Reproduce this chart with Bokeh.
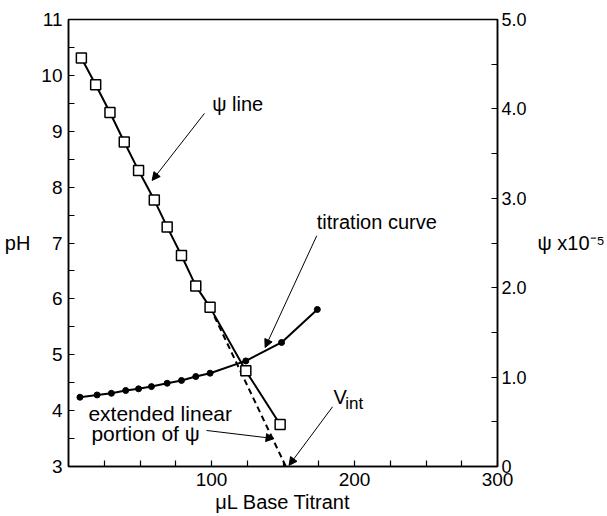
from bokeh.plotting import figure
from bokeh.models import (Range1d, LinearAxis, FixedTicker, Label, Arrow, NormalHead)
from bokeh.embed import file_html
from bokeh.resources import INLINE

# ---- data ----
titr_x = [8, 20, 30, 40, 49, 58, 69, 79, 89, 99, 124, 149, 174]
titr_ph = [4.24, 4.28, 4.31, 4.36, 4.39, 4.43, 4.49, 4.54, 4.61, 4.67, 4.89, 5.22, 5.81]

psi_x = [9, 19, 29, 39, 49, 60, 69, 79, 89, 99, 124, 148]
psi_v = [4.57, 4.27, 3.96, 3.63, 3.31, 2.98, 2.68, 2.36, 2.02, 1.78, 1.07, 0.47]

ext_x = [99, 152]
ext_v = [1.78, 0.0]

x_ticks = [100, 200, 300]
x_minor = [25, 50, 75, 125, 150, 175, 225, 250, 275]
ph_ticks = [3, 4, 5, 6, 7, 8, 9, 10, 11]
ph_minor = [3.5, 4.5, 5.5, 6.5, 7.5, 8.5, 9.5, 10.5]
psi_ticks = [0, 1, 2, 3, 4, 5]
psi_labels = ["0", "1.0", "2.0", "3.0", "4.0", "5.0"]
psi_minor = [0.5, 1.5, 2.5, 3.5, 4.5]

FONT = "Liberation Sans"

p = figure(width=607, height=516, output_backend="svg", toolbar_location=None,
           x_range=Range1d(0, 300), y_range=Range1d(3, 11),
           min_border_left=68, min_border_right=106, min_border_top=19,
           min_border_bottom=50, x_axis_type=None, y_axis_type=None)
p.extra_y_ranges = {"psi": Range1d(0, 5)}
p.grid.visible = False
p.outline_line_color = "black"
p.outline_line_width = 1.5
p.background_fill_color = "white"
p.border_fill_color = "white"


def style_axis(ax, size):
    ax.axis_line_color = "black"
    ax.axis_line_width = 1.5
    ax.major_tick_in = 6
    ax.major_tick_out = 0
    ax.minor_tick_in = 6
    ax.minor_tick_out = 0
    ax.major_tick_line_width = 1.2
    ax.minor_tick_line_width = 1.2
    ax.major_label_text_font = FONT
    ax.major_label_text_font_size = size
    ax.major_label_text_color = "black"
    ax.axis_label_text_font = FONT
    ax.axis_label_text_font_style = "normal"
    ax.axis_label_text_color = "black"


xa = LinearAxis(ticker=FixedTicker(ticks=x_ticks, minor_ticks=x_minor),
                axis_label="μL Base Titrant")
style_axis(xa, "19px")
xa.major_label_standoff = 6
xa.axis_label_text_font_size = "20px"
xa.axis_label_standoff = 2
p.add_layout(xa, "below")

ya = LinearAxis(ticker=FixedTicker(ticks=ph_ticks, minor_ticks=ph_minor),
                axis_label="pH")
style_axis(ya, "19px")
ya.major_label_standoff = 6
ya.axis_label_orientation = "horizontal"
ya.axis_label_text_font_size = "20px"
ya.axis_label_standoff = 8
p.add_layout(ya, "left")

ra = LinearAxis(y_range_name="psi", ticker=FixedTicker(ticks=psi_ticks, minor_ticks=psi_minor),
                axis_label="ψ x10⁻⁵")
style_axis(ra, "18px")
ra.major_label_standoff = 4
ra.major_label_overrides = {t: l for t, l in zip(psi_ticks, psi_labels)}
ra.axis_label_orientation = "horizontal"
ra.axis_label_text_font_size = "20px"
ra.axis_label_standoff = 8
p.add_layout(ra, "right")

# titration curve
p.line(titr_x, titr_ph, line_color="black", line_width=2)
p.scatter(titr_x, titr_ph, marker="circle", size=6, fill_color="black", line_color="black")

# psi line
p.line(ext_x, ext_v, y_range_name="psi", line_color="black", line_width=2, line_dash="6 4")
p.line(psi_x, psi_v, y_range_name="psi", line_color="black", line_width=2)
p.scatter(psi_x, psi_v, y_range_name="psi", marker="square", size=10,
          fill_color="white", line_color="black", line_width=1.5)


def lab(x, y, text, size="20px", align="left", style="normal"):
    p.add_layout(Label(x=x, y=y, text=text, text_font=FONT, text_font_size=size,
                       text_align=align, text_baseline="middle", text_color="black",
                       text_font_style=style))


def arr(x0, y0, x1, y1):
    p.add_layout(Arrow(end=NormalHead(size=8, fill_color="black", line_color="black"),
                       x_start=x0, y_start=y0, x_end=x1, y_end=y1,
                       line_color="black", line_width=1))


lab(100.5, 9.48, "ψ line")
arr(95.1, 9.32, 58.5, 8.12)

lab(173.6, 7.37, "titration curve")
arr(173.6, 7.13, 137.5, 5.13)

lab(13.9, 3.95, "extended linear", size="21px")
lab(16.0, 3.59, "portion of ψ", size="21px")
arr(96.5, 3.645, 143.75, 3.50)

lab(185.4, 4.235, "V")
lab(193.5, 4.12, "int", size="17px")
arr(184.7, 4.07, 154.2, 3.02)

open("out.html", "w").write(file_html(p, INLINE))
